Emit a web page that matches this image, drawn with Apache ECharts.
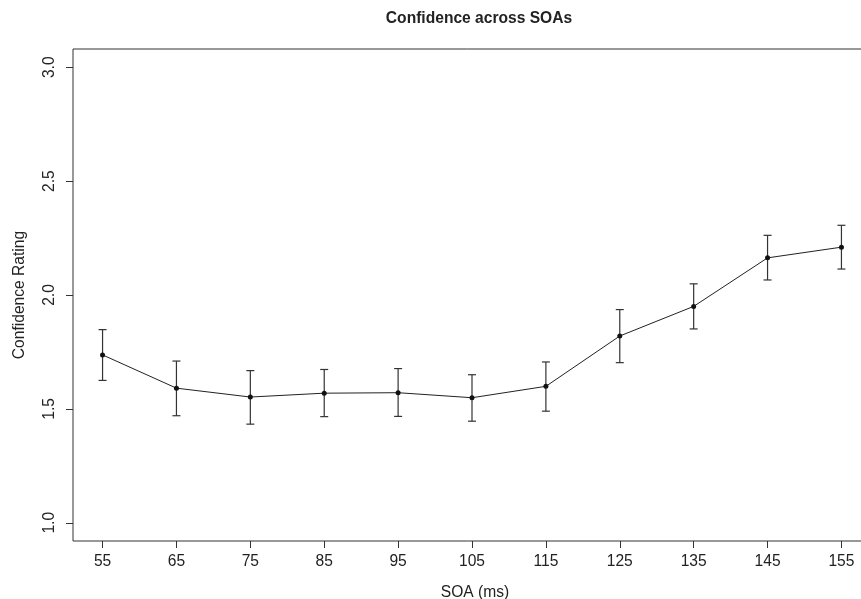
<!DOCTYPE html>
<html lang="en">
<head>
    <meta charset="UTF-8">
    <title>Confidence across SOAs</title>
    <script src="https://cdn.jsdelivr.net/npm/echarts@6/dist/echarts.min.js"></script>
    <style>
        html, body { margin: 0; padding: 0; background: #fff; }
        #myChart { width: 861px; height: 599px; }
    </style>
</head>
<body>
<div id="myChart"></div>
<script type="text/javascript">
    // SOA levels (ms) and mean confidence with error bar limits
    var soa = [55, 65, 75, 85, 95, 105, 115, 125, 135, 145, 155];
    var meanConf = [1.737, 1.591, 1.552, 1.569, 1.571, 1.549, 1.599, 1.820, 1.950, 2.163, 2.210];
    var upper = [1.848, 1.710, 1.668, 1.673, 1.677, 1.650, 1.706, 1.936, 2.049, 2.262, 2.306];
    var lower = [1.625, 1.470, 1.433, 1.466, 1.467, 1.446, 1.490, 1.703, 1.851, 2.066, 2.114];
    var xTicks = [55, 65, 75, 85, 95, 105, 115, 125, 135, 145, 155];
    var yTicks = [1.0, 1.5, 2.0, 2.5, 3.0];

    var ink = '#222';
    var font = 'Liberation Sans, Arial, Helvetica, sans-serif';
    var fs = 15.6;

    var lineData = [];
    var barData = [];
    for (var i = 0; i < soa.length; i++) {
        lineData.push([soa[i], meanConf[i]]);
        barData.push([soa[i], lower[i], upper[i]]);
    }

    var myChart = echarts.init(document.getElementById('myChart'), null, {renderer: 'canvas'});

    var option = {
        animation: false,
        backgroundColor: '#fff',
        title: {
            text: 'Confidence across SOAs',
            left: 479,
            top: 11,
            textAlign: 'center',
            padding: 0,
            textStyle: {fontFamily: font, fontSize: fs, fontWeight: 'bold', color: ink}
        },
        grid: {
            left: 73,
            top: 49,
            width: 798,
            height: 492,
            outerBoundsMode: 'none',
            containLabel: false,
            show: true,
            borderColor: '#333',
            borderWidth: 1,
            backgroundColor: 'transparent'
        },
        xAxis: {
            type: 'value',
            min: 51,
            max: 159,
            name: 'SOA (ms)',
            nameLocation: 'middle',
            nameGap: 44,
            nameTextStyle: {fontFamily: font, fontSize: fs, color: ink, padding: [0, 0, 0, 6]},
            axisLine: {show: false},
            splitLine: {show: false},
            axisTick: {show: true, inside: false, length: 7, lineStyle: {color: '#333'}, customValues: xTicks},
            axisLabel: {
                margin: 13,
                fontFamily: font, fontSize: fs, color: ink,
                customValues: xTicks
            }
        },
        yAxis: {
            type: 'value',
            min: 0.92,
            max: 3.08,
            name: 'Confidence Rating',
            nameLocation: 'middle',
            nameGap: 45,
            nameRotate: 90,
            nameTextStyle: {fontFamily: font, fontSize: fs, color: ink},
            axisLine: {show: false},
            splitLine: {show: false},
            axisTick: {show: true, inside: false, length: 7, lineStyle: {color: '#333'}, customValues: yTicks},
            axisLabel: {
                margin: 15,
                rotate: 90,
                fontFamily: font, fontSize: fs, color: ink,
                customValues: yTicks,
                formatter: function (v) { return v.toFixed(1); }
            }
        },
        series: [
            {
                type: 'custom',
                data: barData,
                z: 2,
                renderItem: function (params, api) {
                    var x = api.value(0);
                    var lo = api.coord([x, api.value(1)]);
                    var hi = api.coord([x, api.value(2)]);
                    var cap = 4;
                    var st = {stroke: '#333', lineWidth: 1.2};
                    return {
                        type: 'group',
                        children: [
                            {type: 'line', shape: {x1: lo[0], y1: lo[1], x2: hi[0], y2: hi[1]}, style: st},
                            {type: 'line', shape: {x1: hi[0] - cap, y1: hi[1], x2: hi[0] + cap, y2: hi[1]}, style: st},
                            {type: 'line', shape: {x1: lo[0] - cap, y1: lo[1], x2: lo[0] + cap, y2: lo[1]}, style: st}
                        ]
                    };
                }
            },
            {
                type: 'line',
                data: lineData,
                z: 3,
                symbol: 'circle',
                symbolSize: 5,
                showAllSymbol: true,
                lineStyle: {color: '#222', width: 1},
                itemStyle: {color: '#111'}
            }
        ]
    };

    myChart.setOption(option);
</script>
</body>
</html>
